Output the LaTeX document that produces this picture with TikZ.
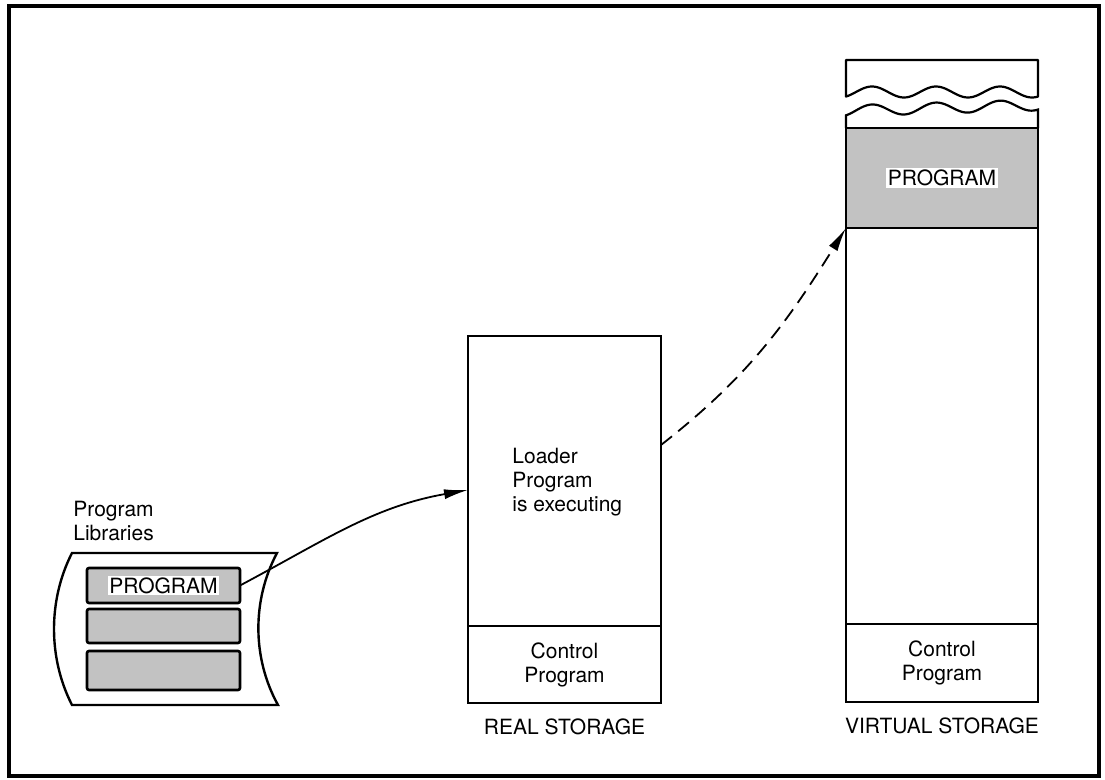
\documentclass[tikz,border=0pt]{standalone}
\usepackage{fontspec}
\setmainfont{TeX Gyre Heros}
\usetikzlibrary{arrows.meta, positioning}

\begin{document}
\begin{tikzpicture}[x=0.5pt, y=-0.5pt, node distance = 0pt,
  every node/.style={font=\fontsize{10.5}{12}\selectfont},
  storebox/.style={draw, line width=1pt, outer sep=0pt, minimum width=96.5pt, align=center},
  libbox/.style={draw, line width=1.3pt, rounded corners=1pt, fill=black!24, minimum width=76.5pt, outer sep=0pt},
  shaded/.style={fill=black!24},
  whitelabel/.style={fill=white, inner sep=0.8pt},
  tip/.style={-{Latex[length=12pt,width=5pt]}}]
\useasboundingbox (0,0) rectangle (1105,780);
\draw[line width=1.8pt] (9,6) rectangle (1099,776);
%
% program libraries
\draw[line width=1.2pt] (72,553) -- (277,553) .. controls (252,600) and (252,658) .. (278,705)
  -- (72,705) .. controls (48,658) and (48,600) .. (72,553) -- cycle;
\node (liblabel) [anchor=south west, align=left, inner sep=0pt] at (73,541) {Program\\Libraries};
\node (libprog) [libbox, minimum height=17.5pt] at (163.5,585.5) {};
\node (libtext) [whitelabel] at (libprog) {PROGRAM};
\node (lib2) [libbox, minimum height=17pt, below=3pt of libprog] {};
\node (lib3) [libbox, minimum height=19.5pt, below=4pt of lib2] {};
%
% real storage
\node (realtop) [storebox, minimum height=145pt] at (564.5,481) {};
\node (realcp) [storebox, minimum height=38.5pt, below=of realtop] {Control\\Program};
\node (reallabel) [below=7.5pt of realcp, inner sep=0pt] {REAL STORAGE};
\node (loader) [anchor=north west, align=left, inner sep=0pt] at (512,448) {Loader\\Program\\is executing};
%
% virtual storage
\node (vband) [storebox, shaded, minimum width=96pt, minimum height=50pt] at (942,178) {};
\node (vprog) [whitelabel] at (vband) {PROGRAM};
\node (vmid) [storebox, minimum width=96pt, minimum height=198pt, below=of vband] {};
\node (vcp) [storebox, minimum width=96pt, minimum height=39pt, below=of vmid] {Control\\Program};
\node (vlabel) [below=7.5pt of vcp, inner sep=0pt] {VIRTUAL STORAGE};
\draw[line width=1.1pt, line join=round] (846,60) -- (1038,60)
  -- plot[domain=1038:846, samples=90, smooth] (\x, {92-5.5*sin((\x-856)*5.625)}) -- cycle;
\draw[line width=1.1pt] (vband.north west)
  -- plot[domain=846:1038, samples=90, smooth] (\x, {105-5.5*sin((\x-856)*5.625)+(1038-\x)*0.03})
  -- (vband.north east);
%
\draw[line width=0.9pt, tip] (libprog.east) to[out=28, in=190] ([yshift=-4.5pt]realtop.west);
\draw[line width=0.9pt, dash pattern=on 7pt off 4pt, tip] ([yshift=18pt]realtop.east) to[out=38, in=238] (vband.south west);
\end{tikzpicture}
\end{document}
